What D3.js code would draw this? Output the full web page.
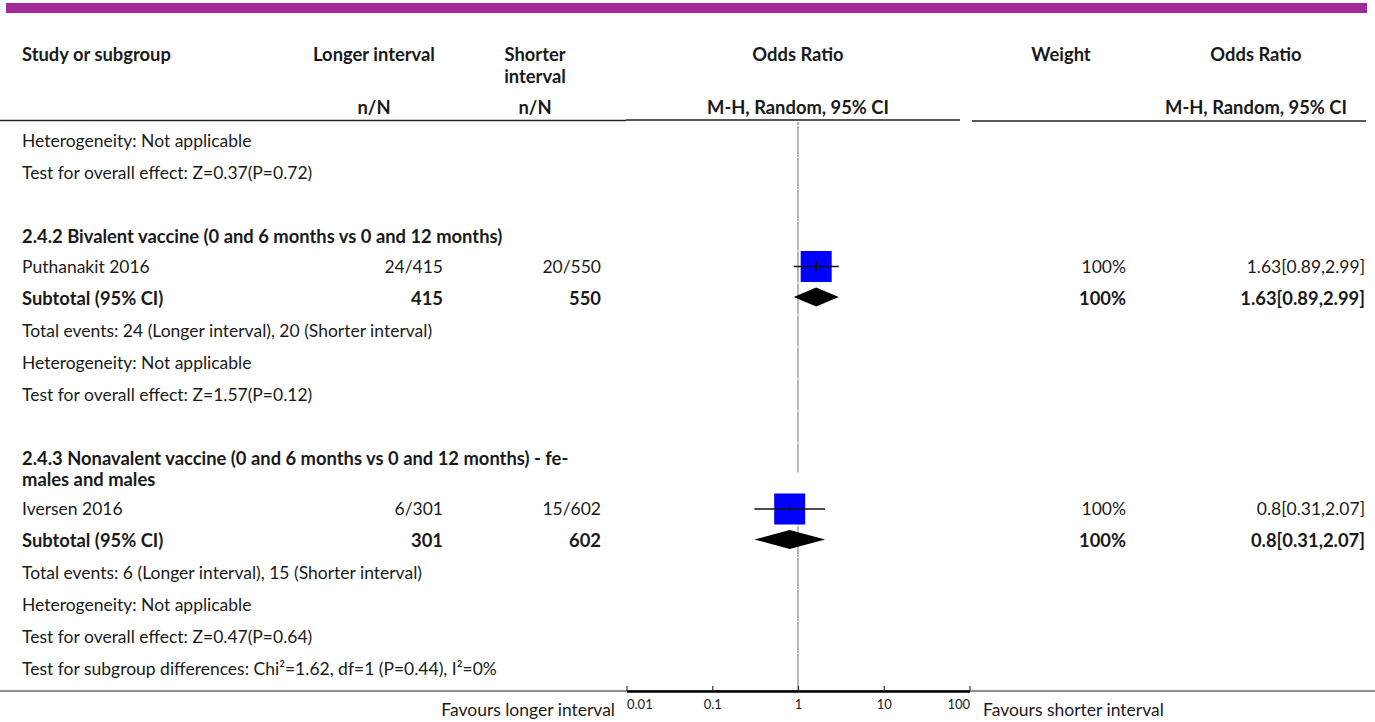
<!DOCTYPE html>
<html><head><meta charset="utf-8">
<script src="https://cdn.jsdelivr.net/npm/d3@7"></script>
<style>body{margin:0;background:#fff}svg{display:block}</style>
</head><body>
<svg id="c" width="1375" height="722"></svg>
<script>
// ---------------- data ----------------
const studyNames = ["Puthanakit 2016", "Iversen 2016"];
const longerEvents = [24, 6];
const longerTotals = [415, 301];
const shorterEvents = [20, 15];
const shorterTotals = [550, 602];
const oddsRatios = [1.63, 0.8];
const ciLower = [0.89, 0.31];
const ciUpper = [2.99, 2.07];
const weightPct = [100, 100];
const orLabels = ["1.63[0.89,2.99]", "0.8[0.31,2.07]"];
const subgroupTitles = [
  ["2.4.2 Bivalent vaccine (0 and 6 months vs 0 and 12 months)"],
  ["2.4.3 Nonavalent vaccine (0 and 6 months vs 0 and 12 months) - fe-", "males and males"]
];
const overallEffects = ["Z=0.37(P=0.72)", "Z=1.57(P=0.12)", "Z=0.47(P=0.64)"];
const subgroupDiff = "Test for subgroup differences: Chi\u00B2=1.62, df=1 (P=0.44), I\u00B2=0%";
const axisTicks = [0.01, 0.1, 1, 10, 100];
const tickLabels = ["0.01", "0.1", "1", "10", "100"];
const headers = {
  study: "Study or subgroup", longer: "Longer interval", shorter: ["Shorter", "interval"],
  or: "Odds Ratio", weight: "Weight", nN: "n/N", method: "M-H, Random, 95% CI"
};
const favours = ["Favours longer interval", "Favours shorter interval"];

// ---------------- layout ----------------
const W = 1375, H = 722;
const FONT = "Lato, 'Noto Sans', sans-serif";
const TXT = "#1a1a1a";
const col = { study: 22, longerR: 443, shorterR: 601, longerC: 374, shorterC: 535, orC: 798, weightR: 1126, weightC: 1061, orR: 1365, orRC: 1256 };
const svg = d3.select("#c");
const x = d3.scaleLog().domain([0.01, 100]).range([626.5, 969.5]);
const boxSize = d3.scaleSqrt().domain([0, 100]).range([0, 31]);

// build rows
const rows = [];
rows.push({ kind: "text", text: "Heterogeneity: Not applicable" });
rows.push({ kind: "text", text: "Test for overall effect: " + overallEffects[0] });
rows.push({ kind: "blank" });
studyNames.forEach((s, i) => {
  rows.push({ kind: "heading", lines: subgroupTitles[i] });
  rows.push({ kind: "study", i });
  rows.push({ kind: "subtotal", i });
  rows.push({ kind: "text", text: `Total events: ${longerEvents[i]} (Longer interval), ${shorterEvents[i]} (Shorter interval)` });
  rows.push({ kind: "text", text: "Heterogeneity: Not applicable" });
  rows.push({ kind: "text", text: "Test for overall effect: " + overallEffects[i + 1] });
  if (i < studyNames.length - 1) rows.push({ kind: "blank" });
});
rows.push({ kind: "text", text: subgroupDiff });

const STEP = 32;
let rowTop = 125;
rows.forEach(r => {
  let h = STEP;
  if (r.kind === "heading") h = 29.5 + 21 * (r.lines.length - 1);
  r.top = rowTop; r.y = rowTop + 16; r.h = h;
  rowTop += h;
});

const g = svg.append("g").attr("font-family", FONT).attr("fill", TXT);
const fsize = 15;

// top purple bar
svg.append("rect").attr("x", 6).attr("y", 3).attr("width", 1361).attr("height", 10).attr("fill", "#9f2a98");

function txt(xp, yp, s, anchor, bold) {
  return g.append("text").attr("x", xp).attr("y", yp).attr("dy", "0.35em")
    .attr("text-anchor", anchor || "start").attr("font-weight", bold ? "bold" : "normal")
    .attr("font-size", fsize).attr("class", bold ? "t b" : "t").text(s);
}
// header
txt(col.study, 55, headers.study, "start", true);
txt(col.longerC, 55, headers.longer, "middle", true);
txt(col.shorterC, 55, headers.shorter[0], "middle", true);
txt(col.shorterC, 77, headers.shorter[1], "middle", true);
txt(col.orC, 55, headers.or, "middle", true);
txt(col.weightC, 55, headers.weight, "middle", true);
txt(col.orRC, 55, headers.or, "middle", true);
txt(col.longerC, 108, headers.nN, "middle", true);
txt(col.shorterC, 108, headers.nN, "middle", true);
txt(col.orC, 108, headers.method, "middle", true);
txt(col.orRC, 108, headers.method, "middle", true);

// header underline segments
const hl = svg.append("g").attr("stroke", "#222").attr("stroke-width", 1.5);
hl.append("line").attr("x1", 0).attr("x2", 626).attr("y1", 120.5).attr("y2", 120.5);
hl.append("line").attr("x1", 626).attr("x2", 960).attr("y1", 120).attr("y2", 120);
hl.append("line").attr("x1", 972).attr("x2", 1366).attr("y1", 121).attr("y2", 121);

// null line segments per row
const nl = svg.append("g").attr("stroke", "#a0a0a0").attr("stroke-width", 1.5);
nl.append("line").attr("x1", x(1)).attr("x2", x(1)).attr("y1", 122).attr("y2", rows[0].top);
rows.forEach(r => {
  const y1 = r.top + 1;
  const y2 = r.kind === "heading" && r.lines.length > 1 ? r.top + 30 : r.top + r.h;
  nl.append("line").attr("x1", x(1)).attr("x2", x(1)).attr("y1", y1).attr("y2", y2);
});
nl.append("line").attr("x1", x(1)).attr("x2", x(1)).attr("y1", rowTop).attr("y2", 690);

// rows
const marks = svg.append("g");
rows.forEach(r => {
  if (r.kind === "text") txt(col.study, r.y, r.text);
  else if (r.kind === "heading") r.lines.forEach((l, k) => txt(col.study, r.y + 21 * k, l, "start", true));
  else if (r.kind === "study") {
    const i = r.i;
    txt(col.study, r.y, studyNames[i]);
    txt(col.longerR, r.y, `${longerEvents[i]}/${longerTotals[i]}`, "end");
    txt(col.shorterR, r.y, `${shorterEvents[i]}/${shorterTotals[i]}`, "end");
    txt(col.weightR, r.y, weightPct[i] + "%", "end");
    txt(col.orR, r.y, orLabels[i], "end");
    const s = boxSize(weightPct[i]);
    marks.append("rect").attr("x", x(oddsRatios[i]) - s / 2).attr("y", r.y - s / 2)
      .attr("width", s).attr("height", s).attr("fill", "#0000ff");
    marks.append("line").attr("x1", x(ciLower[i])).attr("x2", x(ciUpper[i]))
      .attr("y1", r.y).attr("y2", r.y).attr("stroke", "#111").attr("stroke-width", 1.5);
    marks.append("line").attr("x1", x(oddsRatios[i])).attr("x2", x(oddsRatios[i]))
      .attr("y1", r.y - 4.5).attr("y2", r.y + 4.5).attr("stroke", "#111").attr("stroke-width", 1.5);
  } else if (r.kind === "subtotal") {
    const i = r.i;
    txt(col.study, r.y, "Subtotal (95% CI)", "start", true);
    txt(col.longerR, r.y, longerTotals[i], "end", true);
    txt(col.shorterR, r.y, shorterTotals[i], "end", true);
    txt(col.weightR, r.y, weightPct[i] + "%", "end", true);
    txt(col.orR, r.y, orLabels[i], "end", true);
    const yc = r.y - 1.5;
    const pts = [[x(ciLower[i]), yc], [x(oddsRatios[i]), yc - 9.5], [x(ciUpper[i]), yc], [x(oddsRatios[i]), yc + 9.5]];
    marks.append("polygon").attr("points", pts.map(p => p.join(",")).join(" ")).attr("fill", "#000");
  }
});

// axis
const AX_Y = 691;
svg.append("line").attr("x1", 0).attr("x2", W).attr("y1", AX_Y).attr("y2", AX_Y).attr("stroke", "#222").attr("stroke-width", 1);
const ax = svg.append("g").attr("transform", `translate(0,${AX_Y})`)
  .call(d3.axisBottom(x).tickValues(axisTicks).tickFormat((d, i) => tickLabels[i])
    .tickSizeInner(-5).tickSizeOuter(0).tickPadding(9));
ax.select(".domain").attr("stroke", "#000").attr("stroke-width", 2.5);
ax.selectAll(".tick line").attr("stroke", "#333").attr("stroke-width", 1.2);
ax.selectAll(".tick text").attr("font-family", FONT).attr("font-size", 13).attr("fill", TXT)
  .attr("text-anchor", (d, i) => i === 0 ? "start" : (i === axisTicks.length - 1 ? "end" : "middle"));
txt(615, 710, favours[0], "end");
txt(983, 710, favours[1], "start");

// fit font size to reference text width
const probe = g.selectAll("text.t").filter(function () { return this.textContent === subgroupDiff; }).node();
if (probe) {
  const k = 475 / probe.getComputedTextLength();
  g.selectAll("text.t").attr("font-size", function () {
    return fsize * k * (this.classList.contains("b") ? 1.05 : 1);
  });
}
</script>
</body></html>
